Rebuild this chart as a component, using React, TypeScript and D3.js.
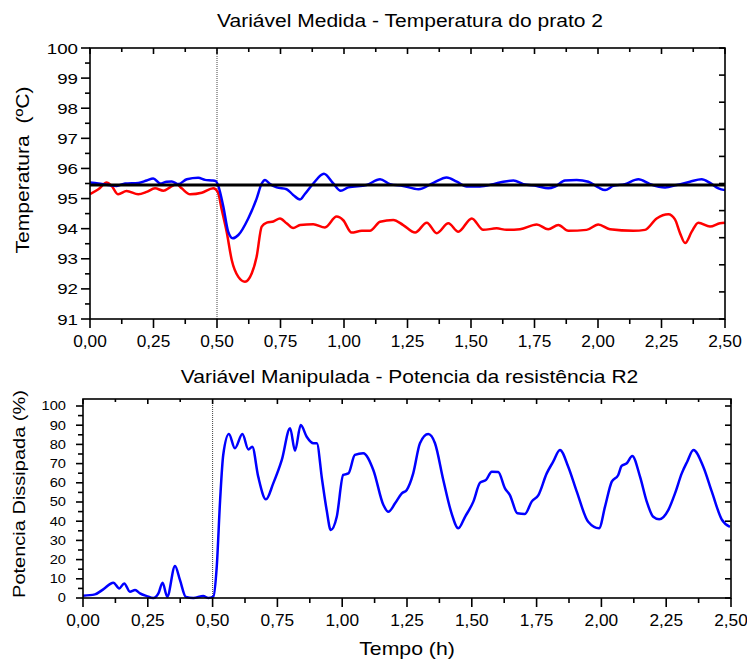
import React from 'react';
import * as d3 from 'd3';

// ---- data ----
const timeTicks = [0, 0.25, 0.5, 0.75, 1.0, 1.25, 1.5, 1.75, 2.0, 2.25, 2.5];
const tempTicks = [91, 92, 93, 94, 95, 96, 97, 98, 99, 100];
const powerTicks = [0, 10, 20, 30, 40, 50, 60, 70, 80, 90, 100];

const setpoint = 95.45;
const stepTime = 0.5;

// blue: measured temperature, plate 2
const blueTime = [0.000, 0.033, 0.072, 0.105, 0.138, 0.190, 0.223, 0.249, 0.276, 0.302, 0.322, 0.348, 0.381, 0.426, 0.453, 0.479, 0.495,
  0.505, 0.525, 0.544, 0.562, 0.584, 0.623, 0.656, 0.676, 0.689, 0.709, 0.735, 0.774, 0.800, 0.827, 0.846, 0.879, 0.921, 0.958, 0.987,
  1.017, 1.089, 1.142, 1.181, 1.233, 1.293, 1.352, 1.404, 1.444, 1.483, 1.535, 1.588, 1.627, 1.667, 1.706, 1.759, 1.804, 1.831, 1.870,
  1.916, 1.962, 2.001, 2.028, 2.060, 2.106, 2.159, 2.205, 2.264, 2.310, 2.362, 2.408, 2.441, 2.474, 2.500];
const blueTemp = [95.53, 95.50, 95.45, 95.42, 95.50, 95.52, 95.60, 95.67, 95.50, 95.56, 95.57, 95.48, 95.64, 95.69, 95.62, 95.60, 95.58,
  95.42, 94.73, 93.90, 93.68, 93.79, 94.34, 95.00, 95.50, 95.62, 95.48, 95.37, 95.31, 95.12, 94.97, 95.15, 95.50, 95.82, 95.50, 95.26,
  95.37, 95.45, 95.64, 95.48, 95.42, 95.31, 95.52, 95.70, 95.56, 95.40, 95.40, 95.48, 95.56, 95.60, 95.48, 95.42, 95.34, 95.40, 95.60,
  95.62, 95.56, 95.37, 95.28, 95.42, 95.48, 95.64, 95.48, 95.37, 95.45, 95.56, 95.64, 95.52, 95.34, 95.28];

// red: second temperature series
const redTime = [0.000, 0.033, 0.066, 0.085, 0.111, 0.144, 0.190, 0.223, 0.256, 0.289, 0.315, 0.341, 0.361, 0.394, 0.440, 0.485, 0.503,
  0.519, 0.538, 0.558, 0.584, 0.610, 0.637, 0.656, 0.676, 0.696, 0.722, 0.748, 0.774, 0.800, 0.827, 0.879, 0.925, 0.971, 0.997, 1.030,
  1.070, 1.102, 1.142, 1.194, 1.233, 1.280, 1.326, 1.365, 1.411, 1.450, 1.503, 1.548, 1.601, 1.640, 1.693, 1.759, 1.804, 1.844, 1.883,
  1.955, 2.001, 2.047, 2.139, 2.185, 2.231, 2.277, 2.303, 2.323, 2.343, 2.369, 2.395, 2.441, 2.480, 2.500];
const redTemp = [95.15, 95.31, 95.53, 95.42, 95.14, 95.25, 95.14, 95.22, 95.34, 95.26, 95.37, 95.48, 95.34, 95.14, 95.19, 95.34, 95.22,
  94.62, 93.90, 92.96, 92.40, 92.24, 92.52, 93.07, 94.07, 94.20, 94.24, 94.34, 94.18, 94.02, 94.12, 94.15, 94.04, 94.40, 94.28, 93.87,
  93.93, 93.93, 94.23, 94.29, 94.12, 93.87, 94.20, 93.85, 94.18, 93.90, 94.34, 93.96, 94.01, 93.96, 93.98, 94.14, 93.98, 94.12, 93.93,
  93.96, 94.14, 93.98, 93.93, 93.96, 94.34, 94.48, 94.31, 93.85, 93.52, 93.90, 94.20, 94.07, 94.18, 94.20];

// dissipated power of resistance R2 (%)
const powerTime = [0.000, 0.046, 0.078, 0.117, 0.140, 0.159, 0.181, 0.201, 0.220, 0.246, 0.271, 0.291, 0.307, 0.325, 0.355, 0.374,
  0.397, 0.426, 0.464, 0.483, 0.503, 0.516, 0.529, 0.541, 0.563, 0.586, 0.615, 0.638, 0.653, 0.676, 0.706, 0.734, 0.767, 0.799, 0.818,
  0.840, 0.863, 0.889, 0.902, 0.922, 0.940, 0.956, 0.979, 1.004, 1.024, 1.049, 1.081, 1.120, 1.159, 1.178, 1.204, 1.230, 1.249, 1.274,
  1.300, 1.332, 1.358, 1.390, 1.422, 1.448, 1.474, 1.506, 1.532, 1.555, 1.577, 1.602, 1.628, 1.647, 1.676, 1.705, 1.731, 1.757, 1.789,
  1.814, 1.840, 1.872, 1.905, 1.949, 1.991, 2.014, 2.040, 2.065, 2.078, 2.098, 2.119, 2.149, 2.175, 2.200, 2.223, 2.258, 2.284, 2.310,
  2.331, 2.355, 2.393, 2.426, 2.464, 2.496];
const powerPct = [1.2, 1.9, 4.5, 8.0, 5.0, 7.6, 3.3, 4.2, 2.4, 1.0, 0.0, 2.4, 8.0, 0.7, 16.7, 9.4,
  0.5, 0.0, 1.0, 0.0, 0.7, 16.3, 51.0, 74.5, 85.4, 78.0, 85.4, 77.4, 78.8, 63.2, 51.4, 59.7, 71.9, 88.4, 76.7,
  90.1, 84.0, 80.6, 80.6, 62.0, 45.8, 35.4, 42.3, 64.1, 64.9, 74.5, 75.4, 66.7, 48.4, 44.9, 49.3, 54.5, 56.3, 64.9,
  80.6, 85.4, 80.6, 61.5, 44.1, 36.3, 42.3, 50.2, 60.1, 61.5, 65.8, 65.6, 57.1, 53.6, 44.1, 43.8, 50.2, 53.6, 64.9,
  71.0, 77.1, 68.4, 55.4, 39.7, 36.3, 47.6, 60.6, 64.1, 68.8, 70.2, 74.0, 63.2, 50.2, 42.3, 41.0, 45.8, 54.5, 64.9,
  71.0, 77.1, 68.4, 55.4, 41.0, 37.1];

const commaFmt = (v: number) => d3.format('.2f')(v).replace('.', ',');

// text drawn with a horizontal stretch, like the original export
function SText(props: { x: number; y: number; size: number; sx?: number; rot?: number; anchor?: string; children: any }) {
  const { x, y, size, sx = 1, rot = 0, anchor = 'middle', children } = props;
  const t = `translate(${x},${y})` + (rot ? ` rotate(${rot})` : '') + ` scale(${sx},1)`;
  return (
    <text transform={t} fontSize={size} textAnchor={anchor} fill="#000" style={{ whiteSpace: 'pre' }}>
      {children}
    </text>
  );
}

export default function App() {
  // top panel
  const xT = d3.scaleLinear().domain([0, 2.5]).range([90, 725]);
  const yT = d3.scaleLinear().domain([91, 100]).range([319, 48]);
  const yTr = d3.scaleLinear().domain([0, 10]).range([319, 48]);
  // bottom panel
  const xB = d3.scaleLinear().domain([0, 2.5]).range([83, 731]);
  const yB = d3.scaleLinear().domain([0, 100]).range([598, 406]);
  const bTop = 399;

  const lineT = d3.line<[number, number]>().x(d => xT(d[0])).y(d => yT(d[1])).curve(d3.curveMonotoneX);
  const lineB = d3.line<[number, number]>().x(d => xB(d[0])).y(d => yB(d[1])).curve(d3.curveMonotoneX);

  const minorTime = d3.range(0, 21).map(i => i * 0.125);
  const minorTemp = d3.range(0, 19).map(i => 91 + i * 0.5);
  const minorPower = d3.range(0, 21).map(i => i * 5);
  const rightTop = d3.range(0, 11);

  const isMajorT = (t: number) => Math.abs(t * 4 - Math.round(t * 4)) < 1e-6;

  const ax = { stroke: '#000', strokeWidth: 1.6 };

  return (
    <svg width={747} height={659} style={{ position: 'absolute', left: 0, top: 0, background: '#fff' }}
         fontFamily="'Liberation Sans', Arial, sans-serif">
      <rect width={747} height={659} fill="#fff" />

      {/* ---------- top panel ---------- */}
      <SText x={410} y={27} size={18.5} sx={1.137}>Variável Medida - Temperatura do prato 2</SText>

      <line x1={xT(stepTime)} x2={xT(stepTime)} y1={yT(100)} y2={yT(91)} stroke="#444" strokeWidth={1} strokeDasharray="1,1" />
      <path d={lineT(d3.zip(redTime, redTemp) as [number, number][]) || ''} fill="none" stroke="#ff0000" strokeWidth={2.5} />
      <path d={lineT(d3.zip(blueTime, blueTemp) as [number, number][]) || ''} fill="none" stroke="#0000ff" strokeWidth={2.5} />
      <line x1={xT(0)} x2={xT(2.5)} y1={yT(setpoint)} y2={yT(setpoint)} stroke="#000" strokeWidth={2.8} />

      <rect x={xT(0)} y={yT(100)} width={xT(2.5) - xT(0)} height={yT(91) - yT(100)} fill="none" {...ax} />
      {minorTime.map(t => {
        const major = isMajorT(t);
        return (
          <g key={'tt' + t}>
            <line x1={xT(t)} x2={xT(t)} y1={yT(91)} y2={yT(91) + (major ? 9 : 5)} {...ax} />
            <line x1={xT(t)} x2={xT(t)} y1={yT(100)} y2={yT(100) + (major ? 6 : 4)} {...ax} />
          </g>
        );
      })}
      {minorTemp.map(v => {
        const major = Number.isInteger(v);
        return <line key={'ty' + v} x1={xT(0) - (major ? 9 : 5)} x2={xT(0)} y1={yT(v)} y2={yT(v)} {...ax} />;
      })}
      {rightTop.map(k => (
        <line key={'tr' + k} x1={xT(2.5) - 6} x2={xT(2.5)} y1={yTr(k)} y2={yTr(k)} {...ax} />
      ))}
      {tempTicks.map(v => (
        <SText key={'tyl' + v} x={78} y={yT(v) + 5.5} size={15} sx={1.25} anchor="end">{String(v)}</SText>
      ))}
      {timeTicks.map(t => (
        <SText key={'txl' + t} x={xT(t)} y={347} size={16} sx={1.08}>{commaFmt(t)}</SText>
      ))}
      <SText x={29} y={170} size={19} sx={1.11} rot={-90}>{'Temperatura\u00A0 (ºC)'}</SText>

      {/* ---------- bottom panel ---------- */}
      <SText x={409.5} y={383} size={18.5} sx={1.136}>Variável Manipulada - Potencia da resistência R2</SText>

      <line x1={xB(stepTime)} x2={xB(stepTime)} y1={bTop} y2={yB(0)} stroke="#444" strokeWidth={1} strokeDasharray="1,1" />
      <path d={lineB(d3.zip(powerTime, powerPct) as [number, number][]) || ''} fill="none" stroke="#0000ff" strokeWidth={2.5} />

      <rect x={xB(0)} y={bTop} width={xB(2.5) - xB(0)} height={yB(0) - bTop} fill="none" {...ax} />
      {minorTime.map(t => {
        const major = isMajorT(t);
        return (
          <g key={'bt' + t}>
            <line x1={xB(t)} x2={xB(t)} y1={yB(0)} y2={yB(0) + (major ? 9 : 5)} {...ax} />
            <line x1={xB(t)} x2={xB(t)} y1={bTop} y2={bTop + (major ? 5 : 3)} {...ax} />
          </g>
        );
      })}
      {minorPower.map(v => {
        const major = v % 10 === 0;
        return <line key={'by' + v} x1={xB(0) - (major ? 7 : 5)} x2={xB(0)} y1={yB(v)} y2={yB(v)} {...ax} />;
      })}
      {powerTicks.map(v => (
        <line key={'br' + v} x1={xB(2.5) - 6} x2={xB(2.5)} y1={yB(v)} y2={yB(v)} {...ax} />
      ))}
      {powerTicks.map(v => (
        <SText key={'byl' + v} x={66} y={yB(v) + 4.3} size={12} sx={1.22} anchor="end">{String(v)}</SText>
      ))}
      {timeTicks.map(t => (
        <SText key={'bxl' + t} x={xB(t)} y={626} size={16} sx={1.08}>{commaFmt(t)}</SText>
      ))}
      <SText x={25} y={494} size={16} sx={1.25} rot={-90}>Potencia Dissipada (%)</SText>
      <SText x={407} y={654.5} size={17.7} sx={1.2}>Tempo (h)</SText>
    </svg>
  );
}
